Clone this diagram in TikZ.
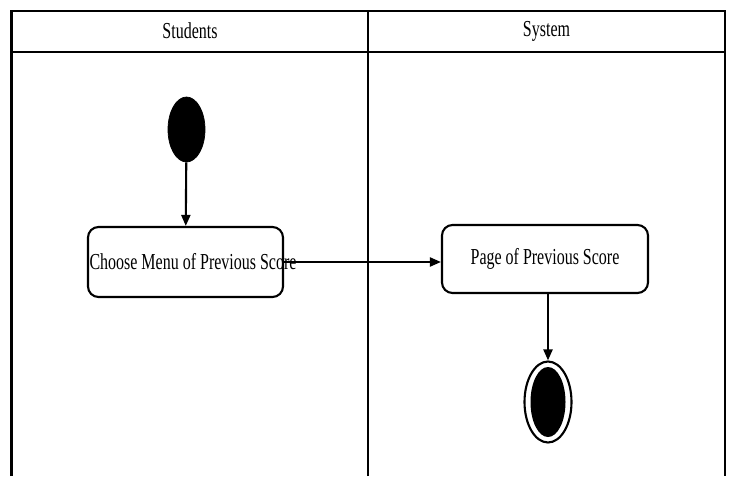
\documentclass[tikz,border=0pt]{standalone}
\usepackage{fontspec}
\setmainfont[FakeStretch=0.7]{Liberation Serif}
\usetikzlibrary{positioning}
\usetikzlibrary{arrows.meta}
\usetikzlibrary{shapes.geometric}
\def\thickness{very thick}
\tikzset{
lane/.style={\thickness},
lanetitle/.style={font=\fontsize{13}{15}\selectfont},
startstate/.style={ellipse,draw,fill=black,minimum width=0.74cm,minimum height=1.3cm,inner sep=0pt},
endring/.style={ellipse,draw,\thickness,minimum width=0.94cm,minimum height=1.62cm,inner sep=0pt},
endstate/.style={ellipse,fill=black,minimum width=0.7cm,minimum height=1.4cm,inner sep=0pt},
activity/.style 2 args={draw,\thickness,rounded corners=6pt,minimum width=#1,minimum height=#2,inner sep=0pt,font=\fontsize{13}{15}\selectfont},
flow/.style={\thickness,-{Triangle[length=2.2mm,width=1.8mm]}},
}

\begin{document}
\begin{tikzpicture}
	\useasboundingbox (0,0) rectangle (14.64,9.52);
	
	% swimlanes
	\draw[lane] (0.23,0) -- (0.23,9.30) -- (14.5,9.30) -- (14.5,0);
	\draw[lane] (0.23,8.48) -- (14.5,8.48);
	\draw[lane] (7.36,0) -- (7.36,9.30);
	\node[lanetitle] (students) at (3.8,8.9) {Students};
	\node[lanetitle] (system) at (10.93,8.9) {System};
	
	\node[startstate] (start) at (3.73,6.93) {};
	\node[activity={3.9cm}{1.4cm}] (menu) at (3.71,4.28) {\makebox[0pt]{\hspace{0.3cm}Choose Menu of Previous Score}};
	\node[activity={4.12cm}{1.36cm}] (page) at (10.9,4.34) {Page of Previous Score};
	\node[endring] (end) at (10.96,1.48) {};
	\node[endstate] (endfill) at (end) {};
	
	%
	\draw[flow] (start) -- (menu);
	\draw[flow] (menu.east) -- (menu.east -| page.west);
	\draw[flow] (page.south -| end) -- (end);
\end{tikzpicture}
\end{document}
